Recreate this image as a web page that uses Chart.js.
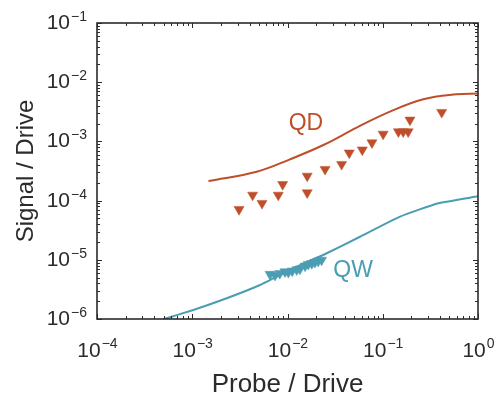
<!DOCTYPE html>
<html>
<head>
<meta charset="utf-8">
<script src="https://cdn.jsdelivr.net/npm/chart.js@4/dist/chart.umd.min.js"></script>
<style>
  html, body { margin: 0; padding: 0; background: #ffffff; }
  #wrap { width: 498px; height: 396px; position: relative; }
</style>
</head>
<body>
<div id="wrap"><canvas id="c"></canvas></div>
<script>
// ---- data ----
const qdLineX = [1.48e-3, 4.75e-3, 1.06e-2, 2.38e-2, 5.32e-2, 0.119, 0.267, 0.597, 1.0];
const qdLineY = [2.14e-4, 3.08e-4, 4.98e-4, 8.69e-4, 1.71e-3, 3.18e-3, 5.14e-3, 6.24e-3, 6.46e-3];

const qwLineX = [4.97e-4, 1.026e-3, 2.30e-3, 5.14e-3, 1.15e-2, 2.58e-2, 5.77e-2, 0.152, 0.383, 1.0];
const qwLineY = [9.9e-7, 1.42e-6, 2.24e-6, 3.75e-6, 7.18e-6, 1.29e-5, 2.45e-5, 5.35e-5, 9.0e-5, 1.18e-4];

const qdPtsX = [3.1e-3, 4.3e-3, 5.4e-3, 8.0e-3, 8.9e-3, 1.61e-2, 1.61e-2, 2.48e-2, 3.7e-2, 4.45e-2, 6.1e-2, 7.7e-2, 0.101, 0.146, 0.164, 0.185, 0.193, 0.416];
const qdPtsY = [7.1e-5, 1.24e-4, 9.0e-5, 1.24e-4, 1.88e-4, 2.6e-4, 1.36e-4, 3.38e-4, 4.1e-4, 6.4e-4, 7.2e-4, 9.5e-4, 1.33e-3, 1.46e-3, 1.46e-3, 1.46e-3, 2.3e-3, 3.1e-3];

const qwPtsX = [6.55e-3, 7.4e-3, 8.3e-3, 9.4e-3, 1.02e-2, 1.12e-2, 1.25e-2, 1.35e-2, 1.53e-2, 1.65e-2, 1.80e-2, 1.94e-2, 2.10e-2, 2.28e-2];
const qwPtsY = [5.7e-6, 5.5e-6, 5.9e-6, 6.3e-6, 6.15e-6, 6.5e-6, 6.8e-6, 7.0e-6, 7.9e-6, 8.4e-6, 8.7e-6, 9.1e-6, 9.5e-6, 9.9e-6];

const xTickValues = [1e-4, 1e-3, 1e-2, 1e-1, 1];
const xTickExps = ['\u22124', '\u22123', '\u22122', '\u22121', '0'];
const yTickValues = [1e-6, 1e-5, 1e-4, 1e-3, 1e-2, 1e-1];
const yTickExps = ['\u22126', '\u22125', '\u22124', '\u22123', '\u22122', '\u22121'];

const seriesLabels = ['QD', 'QW'];
const seriesLabelPos = [[0.0156, 1.97e-3], [0.0488, 6.5e-6]];
const xTitle = 'Probe / Drive';
const yTitle = 'Signal / Drive';

// ---- styles ----
const ORANGE = '#BF4F2A';
const TEAL = '#4A9DB2';
const INK = '#2b2b2b';
const FONT = 'Arial, "Liberation Sans", Helvetica, sans-serif';

const toPts = (xs, ys) => xs.map((x, i) => ({ x, y: ys[i] }));

const axesPlugin = {
  id: 'matlabAxes',
  afterDatasetsDraw(chart) {
    const { ctx, chartArea: a, scales: { x, y } } = chart;
    ctx.save();
    ctx.strokeStyle = INK;
    ctx.lineWidth = 1;
    const majL = 5, minL = 3;
    for (let e = -4; e <= 0; e++) {
      for (let m = 1; m <= 9; m++) {
        const v = m * Math.pow(10, e);
        if (v > 1.0000001) break;
        const px = Math.round(x.getPixelForValue(v)) + 0.5;
        const L = m === 1 ? majL : minL;
        ctx.beginPath();
        ctx.moveTo(px, a.bottom); ctx.lineTo(px, a.bottom - L);
        ctx.moveTo(px, a.top); ctx.lineTo(px, a.top + L);
        ctx.stroke();
      }
    }
    for (let e = -6; e <= -1; e++) {
      for (let m = 1; m <= 9; m++) {
        const v = m * Math.pow(10, e);
        if (v > 0.1000001) break;
        const py = Math.round(y.getPixelForValue(v)) + 0.5;
        const L = m === 1 ? majL : minL;
        ctx.beginPath();
        ctx.moveTo(a.left, py); ctx.lineTo(a.left + L, py);
        ctx.moveTo(a.right, py); ctx.lineTo(a.right - L, py);
        ctx.stroke();
      }
    }
    ctx.lineWidth = 1.6;
    ctx.strokeRect(a.left, a.top, a.right - a.left, a.bottom - a.top);

    ctx.fillStyle = INK;
    const baseFont = '21px ' + FONT, expFont = '14px ' + FONT;
    ctx.textBaseline = 'alphabetic';
    xTickValues.forEach((v, i) => {
      const px = x.getPixelForValue(v);
      ctx.font = baseFont; const wb = ctx.measureText('10').width;
      ctx.font = expFont; const we = ctx.measureText(xTickExps[i]).width;
      const start = px - (wb + we) / 2;
      ctx.textAlign = 'left';
      ctx.font = baseFont; ctx.fillText('10', start, a.bottom + 38);
      ctx.font = expFont; ctx.fillText(xTickExps[i], start + wb + 1, a.bottom + 29);
    });
    yTickValues.forEach((v, i) => {
      const py = y.getPixelForValue(v);
      const right = a.left - 10;
      ctx.font = expFont; const we = ctx.measureText(yTickExps[i]).width;
      ctx.textAlign = 'left';
      ctx.fillText(yTickExps[i], right - we, py - 2);
      ctx.font = baseFont; const wb = ctx.measureText('10').width;
      ctx.fillText('10', right - we - wb - 1, py + 6);
    });

    ctx.textAlign = 'center';
    ctx.textBaseline = 'alphabetic';
    ctx.font = '26px ' + FONT;
    ctx.fillText(xTitle, (a.left + a.right) / 2, a.bottom + 73);
    ctx.font = '24px ' + FONT;
    ctx.save();
    ctx.translate(33, (a.top + a.bottom) / 2);
    ctx.rotate(-Math.PI / 2);
    ctx.fillText(yTitle, 0, 0);
    ctx.restore();

    ctx.font = '23px ' + FONT;
    ctx.textBaseline = 'middle';
    [ORANGE, TEAL].forEach((col, i) => {
      ctx.fillStyle = col;
      ctx.fillText(seriesLabels[i], x.getPixelForValue(seriesLabelPos[i][0]), y.getPixelForValue(seriesLabelPos[i][1]));
    });
    ctx.restore();
  }
};

new Chart(document.getElementById('c'), {
  type: 'scatter',
  data: {
    datasets: [
      { label: 'QD fit', data: toPts(qdLineX, qdLineY), showLine: true, borderColor: ORANGE, borderWidth: 2,
        pointRadius: 0, tension: 0.4, order: 3 },
      { label: 'QW fit', data: toPts(qwLineX, qwLineY), showLine: true, borderColor: TEAL, borderWidth: 2,
        pointRadius: 0, tension: 0.15, order: 3 },
      { label: 'QD', data: toPts(qdPtsX, qdPtsY), pointStyle: 'triangle', rotation: 180, pointRadius: 5.8,
        backgroundColor: ORANGE, borderColor: ORANGE, borderWidth: 0.5, order: 1 },
      { label: 'QW', data: toPts(qwPtsX, qwPtsY), pointStyle: 'triangle', rotation: 180, pointRadius: 5.8,
        backgroundColor: TEAL, borderColor: TEAL, borderWidth: 0.5, order: 1 }
    ]
  },
  options: {
    responsive: true,
    maintainAspectRatio: false,
    animation: false,
    layout: { padding: { left: 97, right: 20, top: 23, bottom: 77 } },
    plugins: { legend: { display: false }, tooltip: { enabled: false } },
    scales: {
      x: { type: 'logarithmic', min: 1e-4, max: 1, display: false },
      y: { type: 'logarithmic', min: 1e-6, max: 1e-1, display: false }
    }
  },
  plugins: [axesPlugin]
});
</script>
</body>
</html>
